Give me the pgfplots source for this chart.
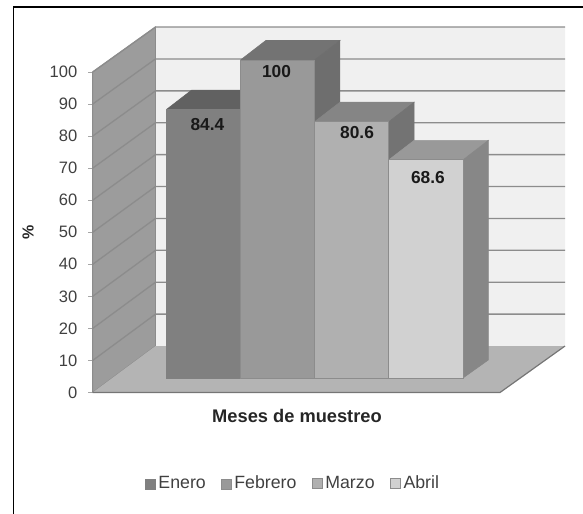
\documentclass[border=0pt]{standalone}
\usepackage{fontspec}
\setmainfont{Liberation Sans}
\usepackage{pgfplots}
\pgfplotsset{compat=1.18}
\definecolor{txt}{HTML}{404040}
\definecolor{wallL}{HTML}{9C9C9C}
\definecolor{wallB}{HTML}{F0F0F0}
\definecolor{floorC}{HTML}{B4B4B4}
\definecolor{edgeC}{HTML}{8C8C8C}
\begin{document}
\begin{tikzpicture}
% page area and the frame along the left and top
\path[use as bounding box] (0,0) rectangle (437.25pt,385.5pt);
\draw[black,line width=1.4pt] (10.1pt,0) -- (10.1pt,380pt) -- (437.25pt,380pt);

% walls, floor and value scale; x runs along the floor, y is the value on the front edge
\begin{axis}[
  at={(69.525pt,91.125pt)}, anchor=south west,
  scale only axis, width=354.225pt, height=274.125pt,
  xmin=92.7, xmax=565, ymin=0, ymax=114.04,
  clip=false,
  axis x line=none, axis y line=left,
  axis line style={draw=none},
  ytick={0,10,...,100},
  tick align=outside,
  major tick length=3.5pt,
  major tick style={color=black!35,line width=0.6pt},
  tick label style={font=\fontsize{12.4}{14}\selectfont,text=txt},
  yticklabel style={xshift=-4.5pt},
  /pgf/number format/assume math mode=true,
  unbounded coords=jump,
  ylabel={\%},
  ylabel style={at={(axis description cs:-0.137,0.439)},anchor=center,rotate=0,font=\fontsize{12}{14}\selectfont\bfseries,text=black!85},
]
\addplot[fill=wallB,draw=none] coordinates {(155.5,14.5)(565,14.5)(565,114.03)(155.5,114.03)} \closedcycle;
\addplot[fill=wallL,draw=edgeC,line width=0.7pt] coordinates {(92.7,0)(155.5,14.5)(155.5,114.03)(92.7,100)(92.7,0)};
\addplot[fill=floorC,draw=none] coordinates {(92.7,0)(500,0)(565,14.5)(155.5,14.5)(92.7,0)};
\addplot[draw=edgeC!120,line width=0.9pt] coordinates {(92.7,0)(500,0)(565,14.5)};
% grid lines across the side wall and back wall
\addplot[draw=edgeC,line width=1pt] coordinates {
 (92.7,10)(155.5,24.45)(565,24.45)(nan,nan)
 (92.7,20)(155.5,34.41)(565,34.41)(nan,nan)
 (92.7,30)(155.5,44.36)(565,44.36)(nan,nan)
 (92.7,40)(155.5,54.31)(565,54.31)(nan,nan)
 (92.7,50)(155.5,64.27)(565,64.27)(nan,nan)
 (92.7,60)(155.5,74.22)(565,74.22)(nan,nan)
 (92.7,70)(155.5,84.17)(565,84.17)(nan,nan)
 (92.7,80)(155.5,94.12)(565,94.12)(nan,nan)
 (92.7,90)(155.5,104.08)(565,104.08)(nan,nan)
 (92.7,100)(155.5,114.03)(565,114.03)
};
\node[font=\fontsize{13.7}{15}\selectfont\bfseries,text=black!85] at (axis cs:297,-7.33) {Meses de muestreo};
\end{axis}

% the four monthly columns, front plane of the blocks
\begin{axis}[
  at={(124.725pt,102pt)}, anchor=south west,
  scale only axis, width=222.525pt, height=238.5pt,
  xmin=-0.5, xmax=3.5, ymin=0, ymax=100,
  clip=false, hide axis,
  ybar, bar shift=0pt, bar width=1,
  /pgf/number format/assume math mode=true,
  nodes near coords,
  every node near coord/.append style={font=\fontsize{13}{15}\selectfont\bfseries,text=black!90,anchor=center},
  legend image code/.code={\draw[#1] (0pt,-3.75pt) rectangle (7.5pt,3.75pt);},
  legend columns=4,
  legend style={at={(axis description cs:0.4287,-0.333)},anchor=center,draw=none,fill=none,
    font=\fontsize{13.3}{15}\selectfont,text=txt,
    nodes={text height=9.5pt,text depth=2.5pt},
    /tikz/every even column/.append style={column sep=9.5pt},
    /tikz/every odd column/.append style={column sep=0pt}},
]
% Enero
\addplot[forget plot,fill=black!62,draw=black!62,no markers,nodes near coords={},sharp plot] coordinates {(-0.5,84.4)(0.5,84.4)(0.841,90.53)(-0.159,90.53)(-0.5,84.4)};
\addplot[fill=black!50,draw=black!50,nodes near coords style={xshift=3pt,yshift=-11.25pt}] coordinates {(0,84.4)};
% Febrero
\addplot[forget plot,fill=black!55,draw=black!55,no markers,nodes near coords={},sharp plot] coordinates {(0.5,100)(1.5,100)(1.841,106.13)(0.841,106.13)(0.5,100)};
\addplot[forget plot,fill=black!57,draw=black!57,no markers,nodes near coords={},sharp plot] coordinates {(1.5,0)(1.5,100)(1.841,106.13)(1.841,5.66)(1.5,0)};
\addplot[fill=black!40,draw=black!45,nodes near coords style={xshift=-0.75pt,yshift=-9pt}] coordinates {(1,100)};
% Marzo
\addplot[forget plot,fill=black!48,draw=black!48,no markers,nodes near coords={},sharp plot] coordinates {(1.5,80.6)(2.5,80.6)(2.841,86.73)(1.841,86.73)(1.5,80.6)};
\addplot[forget plot,fill=black!55,draw=black!55,no markers,nodes near coords={},sharp plot] coordinates {(2.5,0)(2.5,80.6)(2.841,86.73)(2.841,5.66)(2.5,0)};
\addplot[fill=black!31,draw=edgeC,line width=0.7pt,nodes near coords style={xshift=4pt,yshift=-8.25pt}] coordinates {(2,80.6)};
% Abril
\addplot[forget plot,fill=black!40,draw=black!40,no markers,nodes near coords={},sharp plot] coordinates {(2.5,68.6)(3.5,68.6)(3.841,74.73)(2.841,74.73)(2.5,68.6)};
\addplot[forget plot,fill=black!47,draw=black!47,no markers,nodes near coords={},sharp plot] coordinates {(3.5,0)(3.5,68.6)(3.841,74.73)(3.841,5.66)(3.5,0)};
\addplot[fill=black!18,draw=edgeC,line width=0.7pt,nodes near coords style={xshift=1.5pt,yshift=-13.5pt}] coordinates {(3,68.6)};
\legend{Enero,Febrero,Marzo,Abril}
\end{axis}
\end{tikzpicture}
\end{document}
